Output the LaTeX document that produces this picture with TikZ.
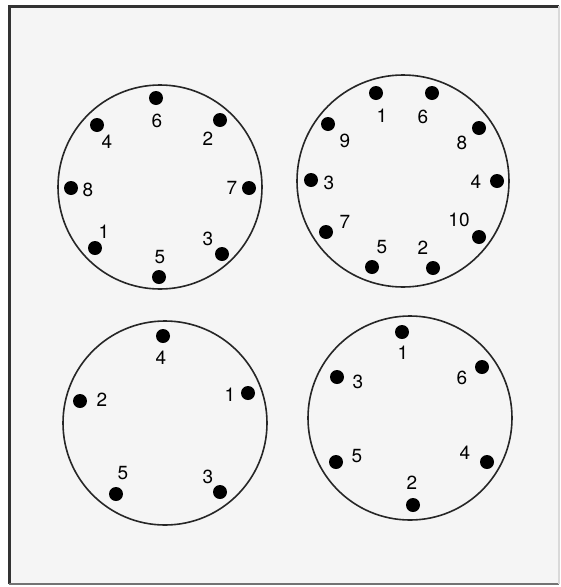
\documentclass[tikz,border=0pt]{standalone}
\usepackage{fontspec}
\setmainfont{TeX Gyre Heros}
\tikzset{
    pin/.style = {circle, fill = black, inner sep = 0pt, minimum size = 14pt},
    num/.style = {inner sep = 0pt, font = \fontsize{19}{19}\selectfont},
    rim/.style = {line width = 1.6pt, black!85}
}
\begin{document}
\begin{tikzpicture}[x = 1pt, y = -1pt]
        \useasboundingbox (0, 0) rectangle (561, 587);
        \fill[black!4] (9, 6) rectangle (559, 584);
        \draw[line width = 3pt, black!80] (9, 584) -- (9, 6) -- (559, 6);
        \draw[line width = 2.5pt, black!55] (9, 584) -- (559, 584);
        \draw[line width = 1.5pt, black!15] (559, 6) -- (559, 584);
        % top left
        \node[circle, rim, draw, minimum size = 204pt, inner sep = 0pt] (c1) at (160, 187) {};
        \node[pin] (a6) at (156, 98) {};
        \node[pin] (a2) at (220, 120) {};
        \node[pin] (a4) at (97, 125) {};
        \node[pin] (a8) at (71, 188) {};
        \node[pin] (a7) at (249, 188) {};
        \node[pin] (a1) at (95, 248) {};
        \node[pin] (a3) at (222, 254) {};
        \node[pin] (a5) at (159, 277) {};
        \node[num] (la6) at (157, 121) {6};
        \node[num] (la2) at (208, 139) {2};
        \node[num] (la4) at (107, 142) {4};
        \node[num] (la8) at (88, 190) {8};
        \node[num] (la7) at (232, 188) {7};
        \node[num] (la1) at (104, 232) {1};
        \node[num] (la3) at (208, 239) {3};
        \node[num] (la5) at (160, 257) {5};
        % top right
        \node[circle, rim, draw, minimum size = 212pt, inner sep = 0pt] (c2) at (403, 181) {};
        \node[pin] (b1) at (376, 93) {};
        \node[pin] (b6) at (432, 93) {};
        \node[pin] (b9) at (328, 124) {};
        \node[pin] (b8) at (479, 128) {};
        \node[pin] (b3) at (311, 180) {};
        \node[pin] (b4) at (497, 181) {};
        \node[pin] (b7) at (326, 232) {};
        \node[pin] (b10) at (479, 237) {};
        \node[pin] (b5) at (372, 267) {};
        \node[pin] (b2) at (433, 268) {};
        \node[num] (lb1) at (382, 116) {1};
        \node[num] (lb6) at (423, 117) {6};
        \node[num] (lb9) at (345, 141) {9};
        \node[num] (lb8) at (462, 143) {8};
        \node[num] (lb3) at (329, 183) {3};
        \node[num] (lb4) at (476, 182) {4};
        \node[num] (lb7) at (345, 222) {7};
        \node[num] (lb10) at (459, 220) {10};
        \node[num] (lb5) at (382, 247) {5};
        \node[num] (lb2) at (423, 248) {2};
        % bottom left
        \node[circle, rim, draw, minimum size = 204pt, inner sep = 0pt] (c3) at (165, 423) {};
        \node[pin] (d4) at (163, 336) {};
        \node[pin] (d2) at (80, 401) {};
        \node[pin] (d1) at (248, 393) {};
        \node[pin] (d5) at (116, 494) {};
        \node[pin] (d3) at (220, 492) {};
        \node[num] (ld4) at (161, 358) {4};
        \node[num] (ld2) at (102, 400) {2};
        \node[num] (ld1) at (230, 395) {1};
        \node[num] (ld5) at (123, 473) {5};
        \node[num] (ld3) at (208, 477) {3};
        % bottom right
        \node[circle, rim, draw, minimum size = 204pt, inner sep = 0pt] (c4) at (410, 418) {};
        \node[pin] (e1) at (402, 332) {};
        \node[pin] (e3) at (337, 377) {};
        \node[pin] (e6) at (482, 367) {};
        \node[pin] (e5) at (336, 462) {};
        \node[pin] (e4) at (487, 462) {};
        \node[pin] (e2) at (413, 505) {};
        \node[num] (le1) at (403, 353) {1};
        \node[num] (le3) at (358, 382) {3};
        \node[num] (le6) at (462, 378) {6};
        \node[num] (le5) at (357, 456) {5};
        \node[num] (le4) at (465, 453) {4};
        \node[num] (le2) at (412, 483) {2};
    \end{tikzpicture}
\end{document}
